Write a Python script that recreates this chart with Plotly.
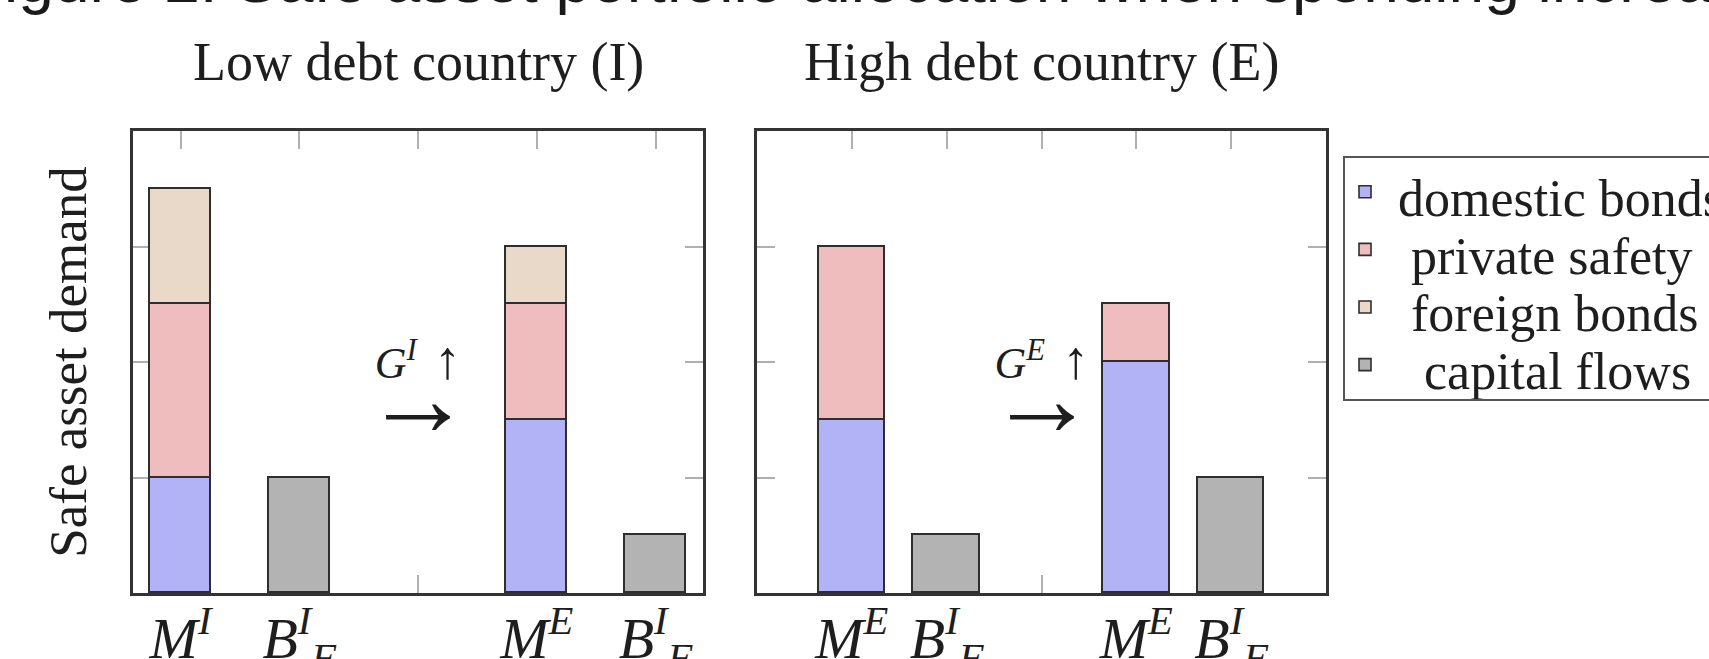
import plotly.graph_objects as go

# ---------------- data ----------------
tick_pos = [1, 2, 3, 4, 5]
tick_labels_low = ["<i>M</i><sup><i>I</i></sup>",
                   "<i>B</i><sup><i>I</i></sup><sub><i>F</i></sub>",
                   "",
                   "<i>M</i><sup><i>E</i></sup>",
                   "<i>B</i><sup><i>I</i></sup><sub><i>F</i></sub>"]
tick_labels_high = ["<i>M</i><sup><i>E</i></sup>",
                    "<i>B</i><sup><i>I</i></sup><sub><i>F</i></sub>",
                    "",
                    "<i>M</i><sup><i>E</i></sup>",
                    "<i>B</i><sup><i>I</i></sup><sub><i>F</i></sub>"]
# (before, after) the spending increase
low_domestic = [2, 3]
low_private = [3, 2]
low_foreign = [2, 1]
low_capital = [2, 1]
high_domestic = [3, 4]
high_private = [3, 1]
high_capital = [1, 2]

series_names = ["domestic bonds", "private safety", "foreign bonds", "capital flows"]
y_ticks = [0, 2, 4, 6, 8]

# ---------------- layout helpers ----------------
W, H = 1709, 659
ML, MR, MT, MB = 133, 383, 131, 66
PW = W - ML - MR
PH = H - MT - MB


def px(x):
    return (x - ML) / PW


def py(y):
    return (H - MB - y) / PH


m_slots = [tick_pos[0], tick_pos[3]]
b_slots = [tick_pos[1], tick_pos[4]]

COL = {"domestic bonds": "#b1b3f6", "private safety": "#efbdbd",
       "foreign bonds": "#e8d9c8", "capital flows": "#b3b3b3"}
LINE = dict(color="#2e2e2e", width=1.6)
NB = "\u00a0"
PAD = {"domestic bonds": NB, "private safety": NB * 2,
       "foreign bonds": NB * 2, "capital flows": NB * 3}

fig = go.Figure()


def add_bar(x, y, name, xa, ya, width, show):
    fig.add_trace(go.Bar(
        x=x, y=y,
        name='<span style="font-size:52px;baseline-shift:-8px">%s%s</span>' % (PAD[name], name),
        legendgroup=name, showlegend=show,
        marker=dict(color=COL[name], line=LINE), width=width,
        xaxis=xa, yaxis=ya, hoverinfo="skip"))


wl, wr = 0.51, 0.70
add_bar(m_slots, low_domestic, series_names[0], "x", "y", wl, True)
add_bar(m_slots, low_private, series_names[1], "x", "y", wl, True)
add_bar(m_slots, low_foreign, series_names[2], "x", "y", wl, True)
add_bar(b_slots, low_capital, series_names[3], "x", "y", wl, True)
add_bar(m_slots, high_domestic, series_names[0], "x2", "y2", wr, False)
add_bar(m_slots, high_private, series_names[1], "x2", "y2", wr, False)
add_bar(b_slots, high_capital, series_names[3], "x2", "y2", wr, False)

SERIF = "Liberation Serif"
TXT = "#1e1e1e"

axis_common = dict(showgrid=False, zeroline=False, showline=True, linecolor="#333333",
                   linewidth=2.5, mirror="ticks", ticks="inside", ticklen=18,
                   tickwidth=2, tickcolor="#b0b0b0", layer="below traces")

xcommon = dict(axis_common, tickmode="array", tickvals=tick_pos,
               tickfont=dict(family=SERIF, size=58, color=TXT), ticklabelstandoff=-7)
ycommon = dict(axis_common, range=[0, 8], tickmode="array", tickvals=y_ticks,
               showticklabels=False)

fig.update_layout(
    width=W, height=H,
    margin=dict(l=ML, r=MR, t=MT, b=MB, autoexpand=False),
    paper_bgcolor="white", plot_bgcolor="white",
    barmode="stack", bargap=0,
    xaxis=dict(xcommon, domain=[0, px(703)], range=[0.6, 5.4], ticktext=tick_labels_low, anchor="y"),
    xaxis2=dict(xcommon, domain=[px(757), 1], range=[0, 6], ticktext=tick_labels_high, anchor="y2"),
    yaxis=dict(ycommon, anchor="x",
               title=dict(text="Safe asset demand", font=dict(family=SERIF, size=53, color=TXT), standoff=27)),
    yaxis2=dict(ycommon, anchor="x2"),
    legend=dict(x=px(1343), y=py(156), xanchor="left", yanchor="top",
                font=dict(family=SERIF, size=42, color=TXT),
                bordercolor="#555555", borderwidth=2, bgcolor="white",
                traceorder="normal", tracegroupgap=0),
    showlegend=True,
)

ann = []
# cut-off figure caption at the very top
ann.append(dict(text="Figure 2: Safe asset portfolio allocation when spending increases",
                xref="paper", yref="paper", x=px(-37), y=py(18), xanchor="left", yanchor="bottom",
                showarrow=False, font=dict(family="Liberation Sans", size=64, color="#1a1a1a")))
# panel titles
ann.append(dict(text="Low debt country (I)", xref="paper", yref="paper",
                x=px(418), y=py(94), xanchor="center", yanchor="bottom", showarrow=False,
                font=dict(family=SERIF, size=54, color=TXT)))
ann.append(dict(text="High debt country (E)", xref="paper", yref="paper",
                x=px(1041.5), y=py(94), xanchor="center", yanchor="bottom", showarrow=False,
                font=dict(family=SERIF, size=54, color=TXT)))
# transition markers: "G ↑" above a long right arrow
for xr, yr, sup in [("x", "y", "I"), ("x2", "y2", "E")]:
    txt = ('<span style="font-size:44px"><i>G</i><sup><i>%s</i></sup>\u2009\u2009'
           '<span style="font-size:54px">\u2191</span></span><br>'
           '<span style="font-size:108px">\u2192</span>') % sup
    ann.append(dict(text=txt, xref=xr, yref=yr, x=3, y=2.31, xanchor="center", yanchor="bottom",
                    showarrow=False, align="center",
                    font=dict(family=SERIF, size=44, color=TXT)))
fig.update_layout(annotations=ann)

fig.write_html("out.html", config={"displayModeBar": False},
               post_script="document.body.style.margin='0';document.body.style.overflow='hidden';")
